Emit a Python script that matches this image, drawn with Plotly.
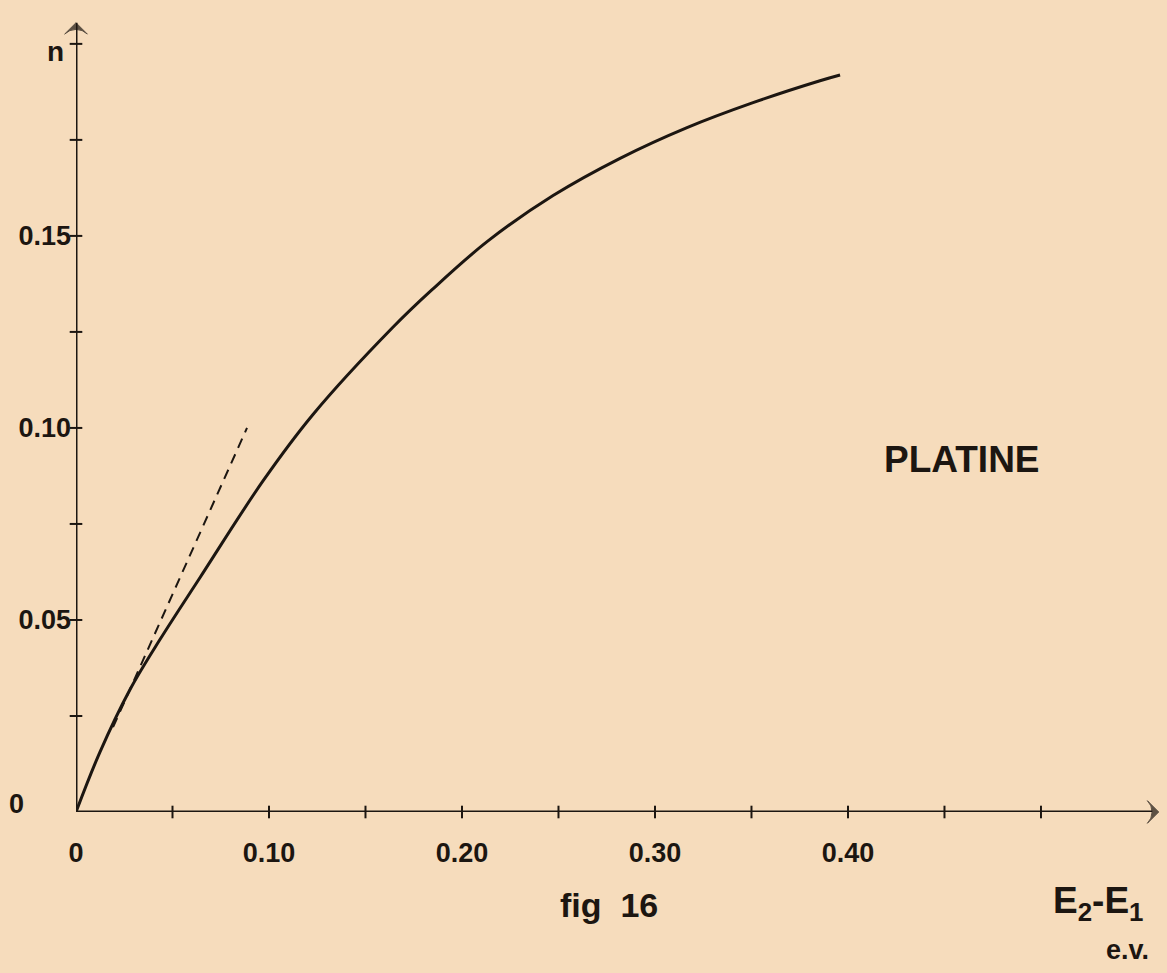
import plotly.graph_objects as go

# --- Données (fig 16, platine) ---
e_diff = [0, 0.0124, 0.0280, 0.0435, 0.0642, 0.0969, 0.1228, 0.1642,
          0.1845, 0.2130, 0.2472, 0.2819, 0.3166, 0.3508, 0.3855, 0.3959]   # E2-E1 (e.V.)
n_val = [0, 0.0156, 0.0319, 0.0449, 0.0610, 0.0862, 0.1035, 0.1262,
         0.1360, 0.1485, 0.1605, 0.1702, 0.1782, 0.1847, 0.1904, 0.1919]    # n

# tangente à l'origine (tirets)
tangente_x = [0.0192, 0.0886]
tangente_n = [0.0221, 0.1000]

# graduations
x_graduations = [0.05, 0.10, 0.15, 0.20, 0.25, 0.30, 0.35, 0.40, 0.45, 0.50]
y_graduations = [0.025, 0.05, 0.075, 0.10, 0.125, 0.15, 0.175, 0.20]
x_tick_vals = [0, 0.10, 0.20, 0.30, 0.40]
x_tick_text = ["0", "0.10", "0.20", "0.30", "0.40"]
y_tick_vals = [0.05, 0.10, 0.15]
y_tick_text = ["0.05", "0.10", "0.15"]

# extrémités des axes (flèches)
x_fin_axe = 0.561
y_fin_axe = 0.2055

encre = "#1c1611"
papier = "#f6dcbc"
police = "Liberation Sans"

fig = go.Figure()

# axes tracés à la main avec une flèche au bout
fig.add_scatter(
    x=[0, x_fin_axe], y=[0, 0],
    mode="lines+markers",
    line=dict(color=encre, width=3),
    marker=dict(symbol="arrow-wide", angleref="previous", size=[0, 16], color=encre,
                line=dict(color=encre, width=1)),
    cliponaxis=False,
)
fig.add_scatter(
    x=[0, 0], y=[0, y_fin_axe],
    mode="lines+markers",
    line=dict(color=encre, width=3),
    marker=dict(symbol="arrow-wide", angleref="previous", size=[0, 16], color=encre,
                line=dict(color=encre, width=1)),
    cliponaxis=False,
)

# courbe principale
fig.add_scatter(
    x=e_diff, y=n_val,
    mode="lines",
    line=dict(color=encre, width=3, shape="spline", smoothing=1.0),
    cliponaxis=False,
)

# tangente en tirets
fig.add_scatter(
    x=tangente_x, y=tangente_n,
    mode="lines",
    line=dict(color=encre, width=2, dash="10px,7px"),
)

# petites graduations sur les axes
fig.add_scatter(
    x=x_graduations, y=[0] * len(x_graduations),
    mode="markers",
    marker=dict(symbol="line-ns-open", size=9, color=encre, line=dict(color=encre, width=2)),
    cliponaxis=False,
)
fig.add_scatter(
    x=[0] * len(y_graduations), y=y_graduations,
    mode="markers",
    marker=dict(symbol="line-ew-open", size=9, color=encre, line=dict(color=encre, width=2)),
    cliponaxis=False,
)

# textes
fig.add_annotation(x=0, y=0, xref="x", yref="y", text="0", showarrow=False,
                   xshift=-60, yshift=8,
                   font=dict(size=27, color=encre, family=police, weight="bold"))
fig.add_annotation(x=0, y=0.198, xref="x", yref="y", text="n", showarrow=False,
                   xanchor="right", xshift=-10,
                   font=dict(size=28, color=encre, family=police, weight="bold"))
fig.add_annotation(x=0.459, y=0.0917, xref="x", yref="y", text="PLATINE", showarrow=False,
                   font=dict(size=37, color=encre, family=police, weight="bold"))
fig.add_annotation(x=0.489, y=-0.116, xref="paper", yref="paper", text="fig\u00a0\u00a016",
                   xanchor="center", yanchor="middle", showarrow=False,
                   font=dict(size=34, color=encre, family=police, weight="bold"))
fig.add_annotation(x=0.937, y=-0.114, xref="paper", yref="paper",
                   text="E<sub>2</sub>-E<sub>1</sub>", showarrow=False,
                   xanchor="center", yanchor="middle",
                   font=dict(size=37, color=encre, family=police, weight="bold"))
fig.add_annotation(x=0.964, y=-0.1725, xref="paper", yref="paper", text="e.v.",
                   xanchor="center", yanchor="middle", showarrow=False,
                   font=dict(size=27, color=encre, family=police, weight="bold"))

fig.update_layout(
    width=1167,
    height=973,
    showlegend=False,
    plot_bgcolor=papier,
    paper_bgcolor=papier,
    margin=dict(l=76, r=0, t=12, b=161),
    xaxis=dict(range=[0, 0.5653], tickvals=x_tick_vals, ticktext=x_tick_text,
               ticks="", showgrid=False, zeroline=False, showline=False,
               ticklabelstandoff=22,
               tickfont=dict(size=27, color=encre, family=police, weight="bold")),
    yaxis=dict(range=[0, 0.2083], tickvals=y_tick_vals, ticktext=y_tick_text,
               ticks="", showgrid=False, zeroline=False, showline=False,
               ticklabelstandoff=4,
               tickfont=dict(size=27, color=encre, family=police, weight="bold")),
)

# pas de marge blanche autour de la figure dans la page, pas de barre d'outils
fig.write_html("out.html", config={"displayModeBar": False},
               post_script="document.body.style.margin='0';")
